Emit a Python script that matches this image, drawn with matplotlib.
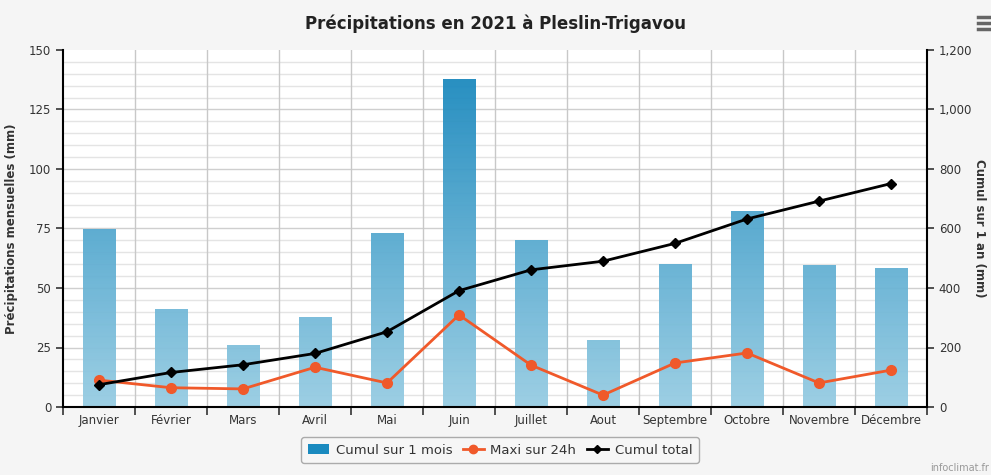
import numpy as np
import matplotlib
matplotlib.use("Agg")
from matplotlib import pyplot as plt
from matplotlib.colors import LinearSegmentedColormap
from matplotlib.lines import Line2D
from matplotlib.patches import Patch

months = ["Janvier", "Février", "Mars", "Avril", "Mai", "Juin", "Juillet",
          "Aout", "Septembre", "Octobre", "Novembre", "Décembre"]
cumul_mois = [74.6, 41.3, 26.1, 37.9, 73.2, 137.7, 70.2, 28.3, 60.2, 82.4, 59.5, 58.6]
maxi_24h = [11.3, 8.1, 7.6, 16.7, 10.1, 38.7, 17.6, 5.0, 18.5, 22.7, 10.1, 15.5]
cumul_total = [75, 116, 142, 180, 253, 391, 461, 490, 550, 632, 692, 751]

title = "Précipitations en 2021 à Pleslin-Trigavou"
ylabel_left = "Précipitations mensuelles (mm)"
ylabel_right = "Cumul sur 1 an (mm)"

plt.rcParams["font.family"] = ["DejaVu Sans"]
text_col = "#333333"
bar_top = "#1284bb"
bar_bottom = "#98cde3"
orange = "#f0592a"

fig = plt.figure(figsize=(9.91, 4.75), dpi=100)
fig.patch.set_facecolor("#f5f5f5")
ax = fig.add_axes([63 / 991, 1 - 407 / 475, 864 / 991, 357 / 475])
ax.set_facecolor("white")

x = np.arange(len(months))

# grid
for yv in np.arange(5, 150, 5):
    major = yv % 25 == 0
    ax.axhline(yv, color="#cfcfcf" if major else "#e4e4e4", lw=1.0, zorder=0)
for xv in np.arange(0.5, len(months) - 0.5, 1):
    ax.axvline(xv, color="#c8c8c8", lw=1.0, zorder=0)

# gradient bars (gradient runs over the full plot height)
cmap = LinearSegmentedColormap.from_list("bars", [bar_bottom, bar_top])
grad = np.linspace(0, 1, 256).reshape(-1, 1)
bars = ax.bar(x, cumul_mois, width=0.45, color="none", edgecolor="none", zorder=1)
for b in bars:
    im = ax.imshow(grad, cmap=cmap, origin="lower", aspect="auto",
                   extent=(b.get_x(), b.get_x() + b.get_width(), 0, 150),
                   zorder=1, alpha=0.95)
    im.set_clip_path(b)
ax.set_xlim(-0.5, len(months) - 0.5)
ax.set_ylim(0, 150)

ax.plot(x, maxi_24h, color=orange, lw=2, marker="o", ms=7, zorder=3)

ax2 = ax.twinx()
ax2.set_ylim(0, 1200)
ax2.plot(x, cumul_total, color="black", lw=2, marker="D", ms=5, zorder=4)

# axes styling
ax.set_yticks(np.arange(0, 151, 25))
ax.set_yticklabels([str(v) for v in range(0, 151, 25)])
ax.set_xticks(x)
ax.set_xticklabels(months)
ax.set_xticks(np.arange(-0.5, len(months), 1), minor=True)
ax.tick_params(axis="x", which="major", length=0, labelsize=8.5, colors=text_col, pad=5)
ax.tick_params(axis="x", which="minor", length=6, width=1.2, color="#333333")
ax.tick_params(axis="y", labelsize=8.5, colors=text_col, length=5, width=1.2)
for s in ["top", "right"]:
    ax.spines[s].set_visible(False)
ax.spines["left"].set_linewidth(1.5)
ax.spines["bottom"].set_linewidth(1.5)

ax2.set_yticks(np.arange(0, 1201, 200))
ax2.set_yticklabels(["{:,}".format(v) for v in range(0, 1201, 200)])
ax2.tick_params(axis="y", labelsize=8.5, colors=text_col, length=5, width=1.2)
for s in ["top", "left", "bottom"]:
    ax2.spines[s].set_visible(False)
ax2.spines["right"].set_linewidth(1.5)

ax.set_ylabel(ylabel_left, fontsize=8.5, fontweight="bold", color=text_col, labelpad=8)
ax2.set_ylabel(ylabel_right, fontsize=8.5, fontweight="bold", color=text_col,
               rotation=270, labelpad=10)

fig.text(0.5, 1 - 24 / 475, title, ha="center", va="center",
         fontsize=12, fontweight="bold", color="#222222")

# legend
handles = [
    Patch(facecolor="#1a8abf", edgecolor="none"),
    Line2D([], [], color=orange, lw=2, marker="o", ms=6),
    Line2D([], [], color="black", lw=2, marker="D", ms=4),
]
leg = fig.legend(handles, ["Cumul sur 1 mois", "Maxi sur 24h", "Cumul total"],
                 loc="center", bbox_to_anchor=(500 / 991, 1 - 450 / 475),
                 ncol=3, fontsize=9.5, frameon=True, fancybox=True,
                 handlelength=1.6, handletextpad=0.5, columnspacing=0.8,
                 borderpad=0.5)
leg.get_frame().set_edgecolor("#999999")
leg.get_frame().set_facecolor("#f7f7f7")
for t in leg.get_texts():
    t.set_color(text_col)

# menu icon and credit
for dy in (17, 23, 29):
    fig.add_artist(Line2D([978 / 991, 991 / 991], [1 - dy / 475, 1 - dy / 475],
                          color="#666666", lw=2.5))
fig.text(989 / 991, 1 - 468 / 475, "infoclimat.fr", fontsize=7, color="#999999",
         ha="right", va="center")

fig.savefig("out.png", dpi=100, facecolor=fig.get_facecolor())
